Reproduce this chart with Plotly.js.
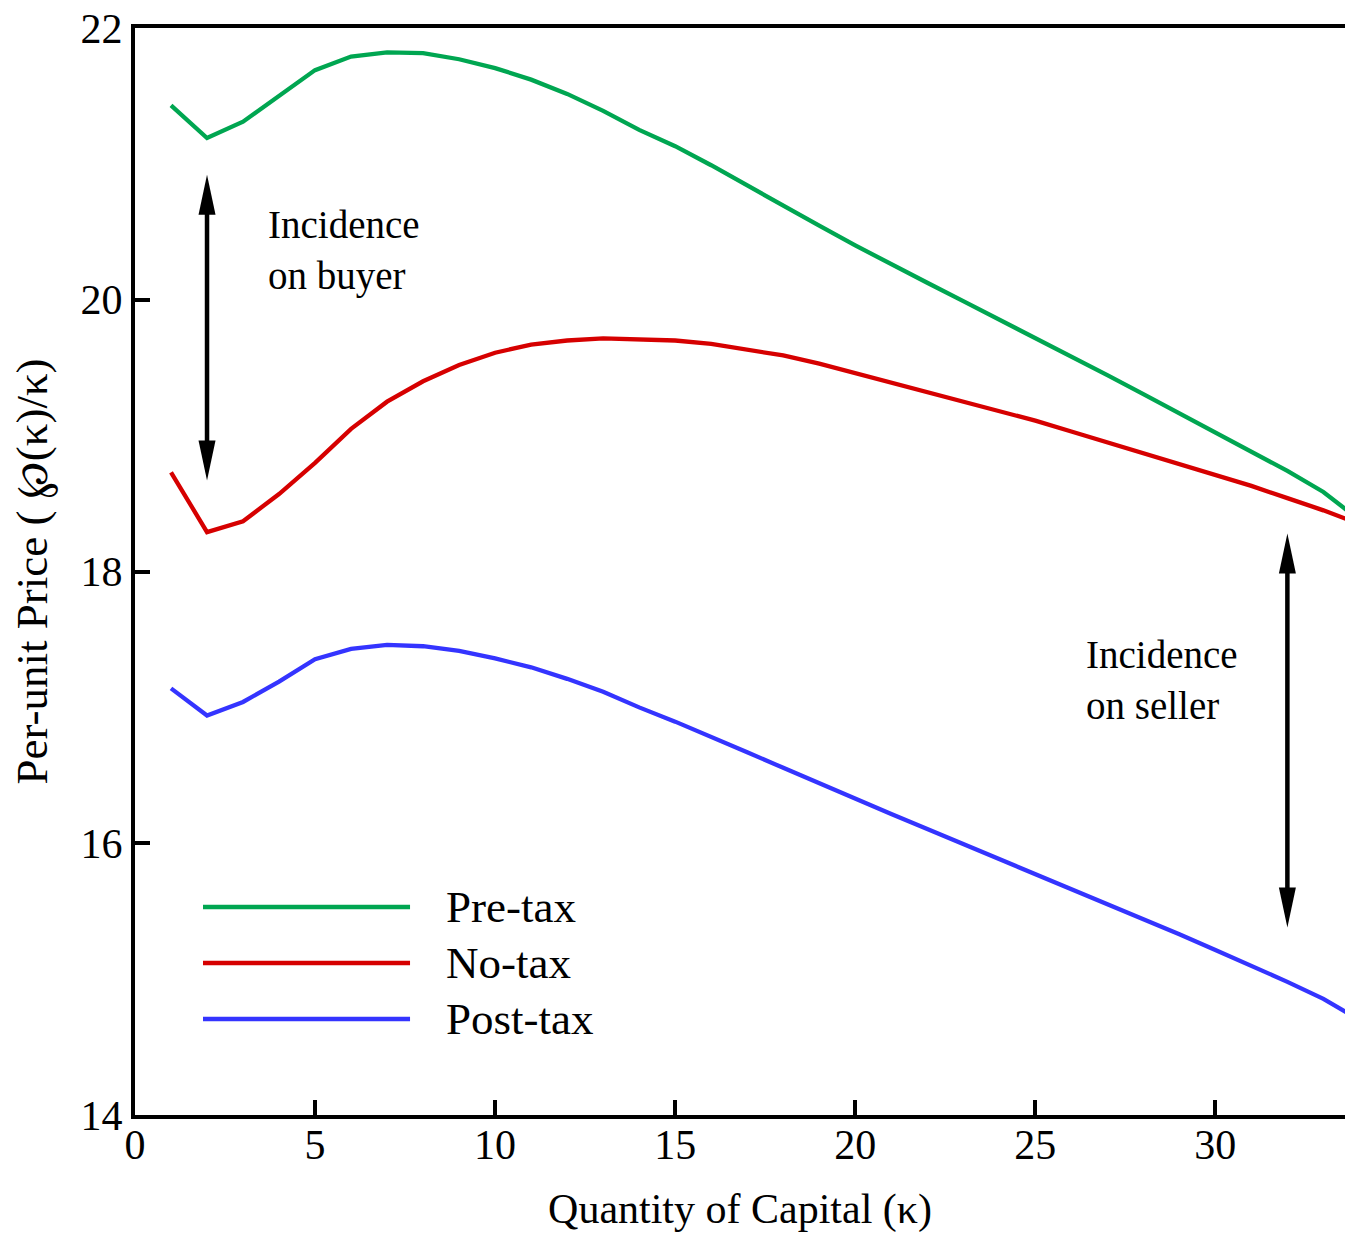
<!DOCTYPE html>
<html>
<head>
<meta charset="utf-8">
<script src="https://cdn.plot.ly/plotly-3.0.1.min.js"></script>
<style>html,body{margin:0;padding:0;background:#fff;}#chart{width:1345px;height:1233px;}</style>
</head>
<body>
<div id="chart"></div>
<script>
// ---- data ----
const kappa = [1,2,3,4,5,6,7,8,9,10,11,12,13,14,15,16,17,18,19,20,21,22,23,24,25,26,27,28,29,30,31,32,33,34];
const preTax = [21.43,21.19,21.31,21.50,21.69,21.79,21.82,21.815,21.77,21.705,21.62,21.515,21.39,21.25,21.13,20.99,20.84,20.69,20.545,20.40,20.26,20.125,19.99,19.855,19.72,19.585,19.445,19.305,19.165,19.025,18.885,18.74,18.585,18.38];
const noTax = [18.73,18.29,18.37,18.57,18.80,19.05,19.25,19.40,19.52,19.61,19.67,19.70,19.715,19.71,19.70,19.675,19.635,19.59,19.53,19.46,19.39,19.32,19.25,19.18,19.11,19.03,18.95,18.87,18.79,18.71,18.63,18.54,18.45,18.35];
const postTax = [17.14,16.94,17.04,17.19,17.355,17.43,17.46,17.45,17.415,17.36,17.295,17.21,17.115,17.00,16.895,16.785,16.67,16.555,16.44,16.325,16.215,16.105,15.995,15.885,15.775,15.665,15.555,15.44,15.33,15.215,15.10,14.98,14.855,14.70];
const seriesNames = ['Pre-tax','No-tax','Post-tax'];
const xTicks = [0,5,10,15,20,25,30];
const yTicks = [14,16,18,20,22];

// ---- style ----
const colors = ['#00a651','#d60000','#3434ff'];
const FONT = 'Liberation Serif, Times New Roman, DejaVu Serif, serif';
const W = 1345, H = 1233;
const M = {l:135, r:0, t:28, b:118};
const xRange = [0, 33.6], yRange = [14, 22];
const plotH = H - M.t - M.b;
const pxPerY = plotH / (yRange[1] - yRange[0]);

const traces = [preTax, noTax, postTax].map((ys, i) => ({
  x: kappa, y: ys, type: 'scatter', mode: 'lines', name: seriesNames[i],
  line: {color: colors[i], width: 4.3}, hoverinfo: 'skip', showlegend: false
}));

// custom long-line legend (paper coordinates)
const legendY = [0.1914, 0.1398, 0.0883];
const shapes = [];
const annotations = [];
seriesNames.forEach((n, i) => {
  shapes.push({type:'line', xref:'paper', yref:'paper', x0:0.0562, x1:0.2273, y0:legendY[i], y1:legendY[i],
    line:{color:colors[i], width:4.5}});
  annotations.push({xref:'paper', yref:'paper', x:0.2555, y:legendY[i], xanchor:'left', yanchor:'middle',
    text:n, showarrow:false, font:{family:FONT, size:45, color:'#000'}});
});

// double-headed arrows
function dblArrow(xk, yTop, yBot) {
  const headLen = 40, headHalf = 8.5;
  const off = headLen * 0.8 / pxPerY;
  shapes.push({type:'line', xref:'x', yref:'y', x0:xk, x1:xk, y0:yTop - off, y1:yBot + off,
    line:{color:'#000', width:4.5}});
  shapes.push({type:'path', xref:'x', yref:'y', xsizemode:'pixel', ysizemode:'pixel', xanchor:xk, yanchor:yTop,
    path:`M0,0 L${-headHalf},${-headLen} L${headHalf},${-headLen} Z`, fillcolor:'#000', line:{width:0}});
  shapes.push({type:'path', xref:'x', yref:'y', xsizemode:'pixel', ysizemode:'pixel', xanchor:xk, yanchor:yBot,
    path:`M0,0 L${-headHalf},${headLen} L${headHalf},${headLen} Z`, fillcolor:'#000', line:{width:0}});
}
dblArrow(2, 20.92, 18.67);
dblArrow(32, 18.28, 15.38);

function label(x, y, t) {
  annotations.push({xref:'x', yref:'y', x:x, y:y, xanchor:'left', yanchor:'middle', align:'left', text:t, showarrow:false,
    font:{family:FONT, size:39, color:'#000'}});
}
label(3.64, 20.36, 'Incidence<br>on buyer');
label(26.36, 17.20, 'Incidence<br>on seller');

const axisCommon = {
  ticks:'inside', ticklen:15, tickwidth:4, tickcolor:'#000',
  showline:true, linewidth:4, linecolor:'#000',
  showgrid:false, zeroline:false,
  tickfont:{family:FONT, size:42, color:'#000'}
};

const layout = {
  width:W, height:H, margin:M, paper_bgcolor:'#fff', plot_bgcolor:'#fff',
  showlegend:false,
  xaxis: Object.assign({}, axisCommon, {range:xRange, tickmode:'array', tickvals:xTicks, mirror:true,
    ticklabelstandoff:-10,
    title:{text:'Quantity of Capital (κ)', font:{family:FONT, size:42, color:'#000'}, standoff:28}}),
  yaxis: Object.assign({}, axisCommon, {range:yRange, tickmode:'array', tickvals:yTicks,
    title:{text:'Per-unit Price ( ℘(κ)/κ)', font:{family:FONT, size:45, color:'#000'}, standoff:20}}),
  shapes: shapes,
  annotations: annotations
};

Plotly.newPlot('chart', traces, layout, {staticPlot:true, displayModeBar:false});
</script>
</body>
</html>
